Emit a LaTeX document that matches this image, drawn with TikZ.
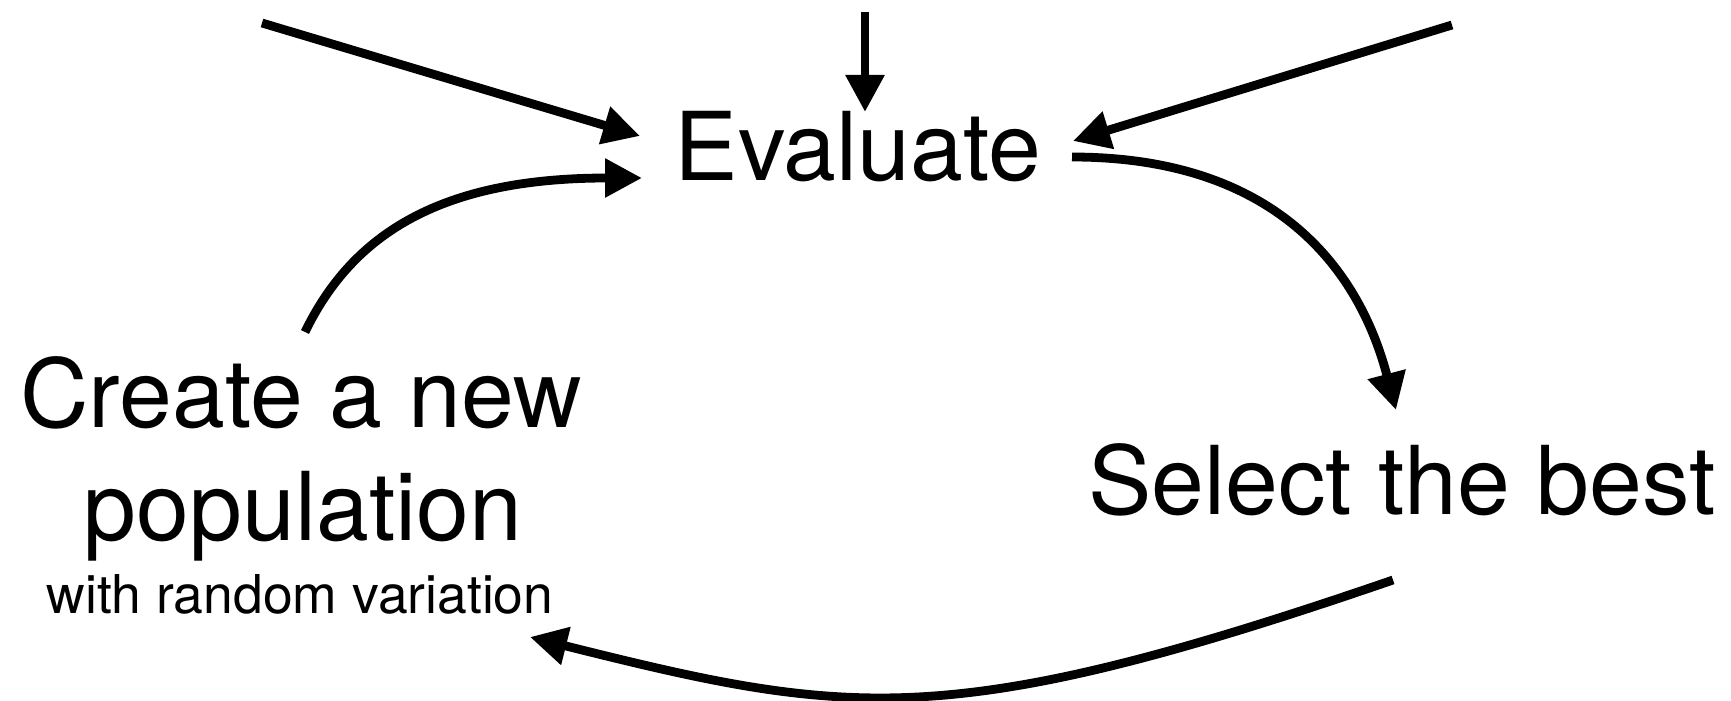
\documentclass[tikz,border=0pt]{standalone}
\usepackage{fontspec}
\setmainfont{TeX Gyre Heros}
\usetikzlibrary{arrows.meta}
\tikzset{
  arr/.style={line width=4.4pt, -{Triangle[length=18.5pt,width=18.5pt]}},
  big/.style={anchor=base, inner sep=0pt, font=\fontsize{47.5}{57}\selectfont},
  small/.style={anchor=base, inner sep=0pt, font=\fontsize{26.75}{32}\selectfont}
}
\begin{document}
\begin{tikzpicture}[x=0.5pt, y=-0.5pt]
\useasboundingbox (0,0) rectangle (1731,701);
% labels
\node[big] (eval) at (858,181) {Evaluate};
\node[big] (create) at (301,427) {Create a new};
\node[big] (pop) at (303,540) {population};
\node[small] (var) at (300,613) {with random variation};
\node[big] (select) at (1402,514) {Select the best};
% connector ends
\coordinate (tlS) at (262,23);
\coordinate (tlE) at (640,136);
\coordinate (tS) at (865,12);
\coordinate (tE) at (865,112);
\coordinate (trS) at (1452,25);
\coordinate (trE) at (1073,141);
\coordinate (crS) at (305,332);
\coordinate (crE) at (642,178);
\coordinate (evS) at (1072,157);
\coordinate (selE) at (1396,410);
\coordinate (selS) at (1393,580);
\coordinate (popE) at (530,637);
% connectors
\draw[arr] (tlS) -- (tlE);
\draw[arr] (tS) -- (tE);
\draw[arr] (trS) -- (trE);
\draw[arr] (crS) .. controls +(48,-99) and +(-200,0) .. (crE);
\draw[arr] (evS) .. controls +(200,0) and +(-38,-145) .. (selE);
\draw[arr] (selS) .. controls +(-445,153) and +(320,80) .. (popE);
\end{tikzpicture}
\end{document}
